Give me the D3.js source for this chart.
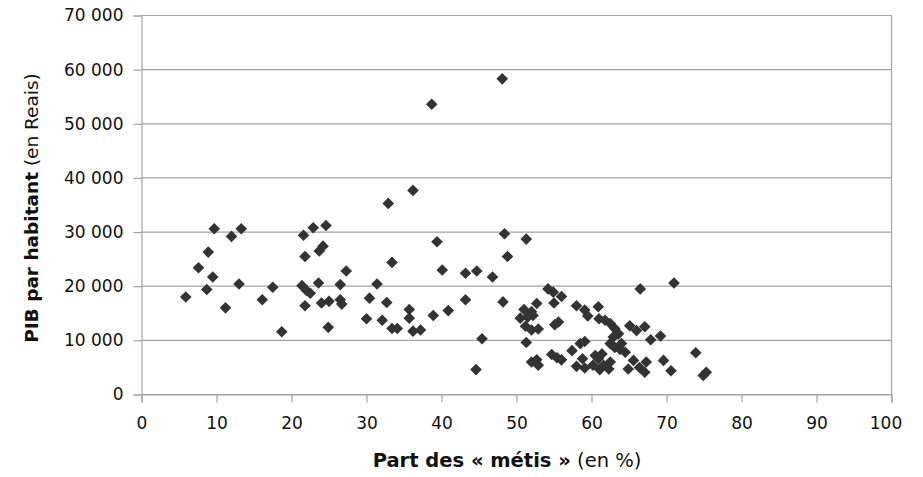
<!DOCTYPE html>
<html><head><meta charset="utf-8">
<script src="https://cdn.jsdelivr.net/npm/d3@7"></script>
<style>body{margin:0;background:#fff}svg{display:block}text{font-family:"DejaVu Sans",sans-serif;fill:#111}</style>
</head><body><div id="chart"></div>
<script>
const xTicks = [0,10,20,30,40,50,60,70,80,90,100];
const yTicks = [0,10000,20000,30000,40000,50000,60000,70000];
// Part des « métis » (%)
const metis = [5.9,7.6,8.7,8.9,9.5,9.7,11.2,12.0,13.3,13.0,16.1,17.5,18.7,21.6,22.9,24.6,21.8,23.7,24.2,21.4,22.0,22.5,23.6,21.8,24.0,25.0,24.9,26.5,27.3,26.5,26.7,30.0,30.4,31.4,32.1,32.7,33.4,33.4,34.1,35.7,35.7,36.2,37.2,38.9,39.4,40.1,40.9,43.2,44.7,43.2,45.4,44.6,32.9,36.2,38.7,48.1,48.4,51.3,48.8,46.8,48.2,51.3,54.2,54.9,56.0,55.0,51.0,52.7,52.0,52.2,50.5,51.5,51.2,52.0,52.9,55.1,55.6,58.0,59.1,59.5,60.9,61.0,61.8,62.5,63.1,63.6,62.9,65.1,66.0,67.1,67.9,69.2,66.5,71.0,52.7,52.0,52.9,54.7,55.4,56.0,57.4,58.5,59.1,58.8,58.0,59.1,60.2,60.9,61.1,60.5,62.5,63.1,63.8,64.5,61.4,61.6,62.5,62.3,65.6,64.9,66.4,67.3,67.1,69.6,70.6,73.9,74.9,75.3,64.0];
// PIB par habitant (Reais)
const pib = [18000,23400,19400,26300,21700,30600,16000,29200,30600,20400,17500,19800,11600,29400,30800,31200,25500,26500,27400,20100,19200,18700,20600,16400,16900,17200,12400,20300,22800,17500,16700,14000,17800,20400,13700,17000,24400,12200,12200,15700,14100,11700,11900,14600,28200,23000,15500,22400,22800,17500,10300,4600,35300,37700,53600,58300,29700,28700,25500,21700,17100,9600,19500,18900,18100,16900,15700,16800,15300,14600,14100,14300,12600,11900,12100,12900,13400,16400,15600,14500,16200,14000,13700,13100,12200,11200,10600,12700,11800,12500,10100,10800,19500,20600,6400,6000,5400,7400,6800,6400,8100,9400,9800,6600,5200,4900,5400,6600,4600,7200,9400,8700,8300,7800,7500,5400,6000,4700,6300,4700,5000,6000,4100,6300,4400,7700,3500,4100,9400];

const W = 923, H = 477;
const svg = d3.select("#chart").append("svg").attr("width", W).attr("height", H);
const x = d3.scaleLinear().domain([0,100]).range([141.5, 891.5]);
const y = d3.scaleLinear().domain([0,70000]).range([394.5, 15.5]);
const grid = "#a3a3a3";
const fmt = v => d3.format(",")(v).replace(/,/g, " ");

svg.append("g").selectAll("line").data(yTicks).join("line")
  .attr("x1", x(0)).attr("x2", x(100)).attr("y1", d => y(d)).attr("y2", d => y(d))
  .attr("stroke", grid).attr("stroke-width", 1.2);
svg.append("line").attr("x1", x(100)).attr("x2", x(100)).attr("y1", y(70000)).attr("y2", y(0))
  .attr("stroke", grid).attr("stroke-width", 1.2);

const xAxis = svg.append("g").attr("transform", `translate(0,${y(0)})`)
  .call(d3.axisBottom(x).tickValues(xTicks).tickSize(8).tickPadding(14).tickFormat(d3.format("d")));
const yAxis = svg.append("g").attr("transform", `translate(${x(0)},0)`)
  .call(d3.axisLeft(y).tickValues(yTicks).tickSize(8).tickPadding(10).tickFormat(fmt));
[xAxis, yAxis].forEach(g => {
  g.select(".domain").attr("stroke", grid).attr("stroke-width", 1.2);
  g.selectAll(".tick line").attr("stroke", grid).attr("stroke-width", 1.2);
  g.selectAll(".tick text").attr("font-size", 17).attr("font-family", "DejaVu Sans").attr("fill", "#111");
});
xAxis.selectAll(".tick text").filter(d => d === 100).attr("dx", -6);

const data = metis.map((m, i) => ({m, p: pib[i]}));
svg.append("g").selectAll("path").data(data).join("path")
  .attr("d", "M0,-5.8L5.8,0L0,5.8L-5.8,0Z")
  .attr("transform", d => `translate(${x(d.m)},${y(d.p)})`)
  .attr("fill", "#333");

const xt = svg.append("text").attr("x", 507).attr("y", 467).attr("text-anchor", "middle").attr("font-size", 19.5);
xt.append("tspan").attr("font-weight", "bold").text("Part des « métis »");
xt.append("tspan").text(" (en %)");
const yt = svg.append("text").attr("transform", "translate(38,208) rotate(-90)").attr("text-anchor", "middle").attr("font-size", 18.5);
yt.append("tspan").attr("font-weight", "bold").text("PIB par habitant");
yt.append("tspan").text(" (en Reais)");
</script></body></html>
